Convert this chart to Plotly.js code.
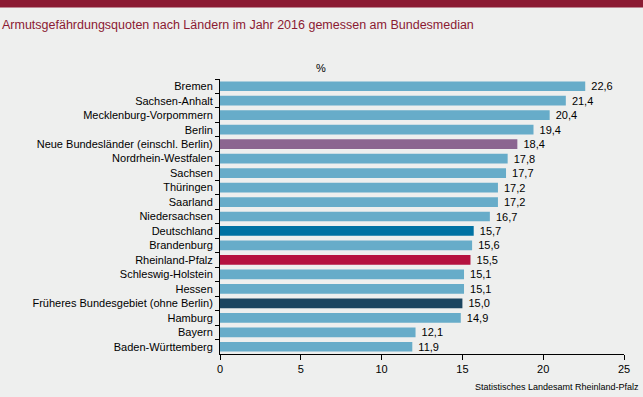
<!DOCTYPE html>
<html><head><meta charset="utf-8">
<script src="https://cdn.plot.ly/plotly-3.0.1.min.js"></script>
<style>html,body{margin:0;padding:0;background:#eeefee;}#chart{width:643px;height:397px;}</style>
</head><body><div id="chart"></div>
<script>
const categories = ["Bremen","Sachsen-Anhalt","Mecklenburg-Vorpommern","Berlin","Neue Bundesländer (einschl. Berlin)","Nordrhein-Westfalen","Sachsen","Thüringen","Saarland","Niedersachsen","Deutschland","Brandenburg","Rheinland-Pfalz","Schleswig-Holstein","Hessen","Früheres Bundesgebiet (ohne Berlin)","Hamburg","Bayern","Baden-Württemberg"];
const values = [22.6,21.4,20.4,19.4,18.4,17.8,17.7,17.2,17.2,16.7,15.7,15.6,15.5,15.1,15.1,15.0,14.9,12.1,11.9];
const highlight = {"Neue Bundesländer (einschl. Berlin)":"#8b6590","Deutschland":"#0072a3","Rheinland-Pfalz":"#b5123f","Früheres Bundesgebiet (ohne Berlin)":"#1b4560"};
const baseColor = "#67acc9";
const colors = categories.map(c => highlight[c] || baseColor);

const trace = {
  type:"bar", orientation:"h", y:categories, x:values,
  marker:{color:colors},
  text: values.map(v => "\u00a0" + v.toFixed(1).replace('.',',')),
  textposition:"outside", cliponaxis:false, constraintext:"none",
  textfont:{family:"Liberation Sans, Arial, sans-serif", size:11, color:"#000"},
  hoverinfo:"none"
};
const layout = {
  width:643, height:397,
  paper_bgcolor:"#eeefee", plot_bgcolor:"#eeefee",
  margin:{l:220, r:19, t:79, b:43},
  bargap:0.33,
  showlegend:false,
  font:{family:"Liberation Sans, Arial, sans-serif", size:11, color:"#000"},
  xaxis:{range:[0,25], dtick:5, showgrid:false, zeroline:false, showline:true, linecolor:"#000", linewidth:1,
         ticks:"outside", ticklen:5, tickcolor:"#000", tickfont:{size:11}, fixedrange:true},
  yaxis:{autorange:"reversed", type:"category", showgrid:false, showline:true, linecolor:"#000", linewidth:1,
         ticks:"outside", ticklen:4, tickcolor:"#000", tickson:"boundaries", ticklabelstandoff:4, tickfont:{size:11}},
  shapes:[{type:"rect", xref:"paper", yref:"paper", x0:-0.6, x1:1.1, y0:1.26, y1:1.3, fillcolor:"#8b1a32", line:{width:0}, layer:"above"}],
  annotations:[
    {text:"Armutsgefährdungsquoten nach Ländern im Jahr 2016 gemessen am Bundesmedian", xref:"paper", yref:"paper", x:-220/404, y:1, xanchor:"left", yanchor:"middle", yshift:54, showarrow:false, font:{size:12.5, color:"#8b1a32"}},
    {text:"%", xref:"paper", yref:"paper", x:(321-220)/404, y:1, yshift:11, xanchor:"center", yanchor:"middle", showarrow:false, font:{size:11, color:"#000"}},
    {text:"Statistisches Landesamt Rheinland-Pfalz", xref:"paper", yref:"paper", x:1, xshift:17, y:0, yshift:-33, xanchor:"right", yanchor:"middle", showarrow:false, font:{size:9, color:"#000"}}
  ]
};
Plotly.newPlot("chart",[trace],layout,{displayModeBar:false, staticPlot:true});
</script></body></html>
